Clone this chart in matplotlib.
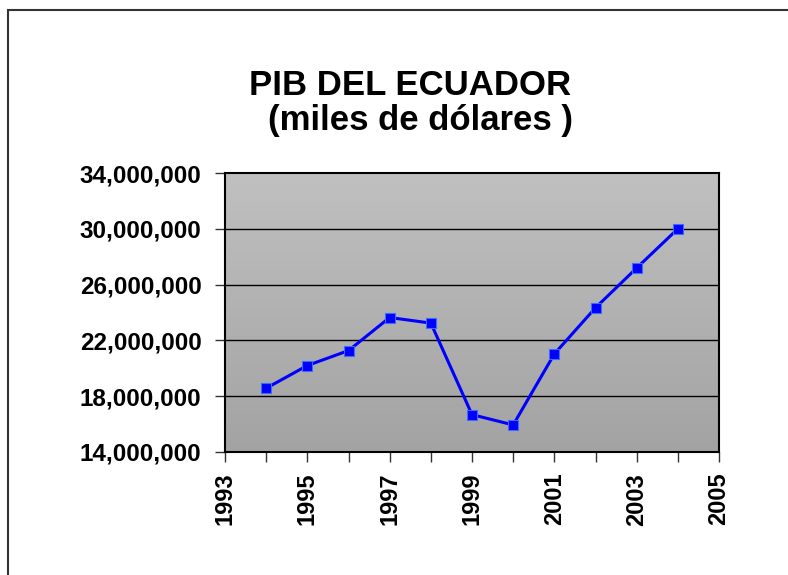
import numpy as np
import matplotlib
matplotlib.use("Agg")
import matplotlib.pyplot as plt
from matplotlib.patches import Rectangle
from matplotlib.ticker import FuncFormatter


years = [1994, 1995, 1996, 1997, 1998, 1999, 2000, 2001, 2002, 2003, 2004]
pib = [18570000, 20200000, 21270000, 23640000, 23240000, 16680000,
       15940000, 21030000, 24340000, 27190000, 30000000]

title_1 = "PIB DEL ECUADOR"
title_2 = "(miles de dólares )"

plt.rcParams['font.family'] = ['Liberation Sans', 'DejaVu Sans']

fig = plt.figure(figsize=(7.88, 5.75), dpi=100)
ax = fig.add_axes([225 / 788, 1 - 452 / 575, 494 / 788, 279 / 575])

# outer chart border (right and bottom run off the picture)
fig.patches.append(Rectangle((8 / 788, -0.1), 1.2, 1 - 10 / 575 + 0.1,
                             transform=fig.transFigure, fill=False,
                             edgecolor='#333333', linewidth=1.5))

# gray gradient plot area
grad = np.linspace(0, 1, 256).reshape(-1, 1)
ax.imshow(grad, cmap=matplotlib.colors.LinearSegmentedColormap.from_list(
    'g', ['#c0c0c0', '#a3a3a3']), aspect='auto',
    extent=[1993, 2005, 14000000, 34000000], origin='upper', zorder=0)

ax.set_xlim(1993, 2005)
ax.set_ylim(14000000, 34000000)

for v in [18000000, 22000000, 26000000, 30000000]:
    ax.axhline(v, color='black', linewidth=1, zorder=1)

ax.plot(years, pib, color='#0000ff', linewidth=2.2, marker='s',
        markersize=7, markerfacecolor='#0000ff',
        markeredgecolor='#3a6cff', markeredgewidth=0.8, zorder=3)

ax.set_yticks(range(14000000, 34000001, 4000000))
ax.yaxis.set_major_formatter(FuncFormatter(lambda v, p: f"{int(v):,}"))
ax.set_xticks(range(1993, 2006, 2))
ax.set_xticks(range(1993, 2006), minor=True)

for lab in ax.get_yticklabels():
    lab.set_fontweight('bold')
for lab in ax.get_xticklabels():
    lab.set_fontweight('bold')
    lab.set_rotation(90)

ax.tick_params(axis='y', direction='out', length=7, width=1, color='#333333',
               labelsize=17.5, pad=10)
ax.tick_params(axis='x', which='both', direction='out', length=7, width=1,
               color='#333333', labelsize=17, pad=8)

for s in ax.spines.values():
    s.set_color('black')
    s.set_linewidth(1.5)

fig.text(410 / 788, 1 - 95 / 575, title_1, ha='center', va='baseline',
         fontsize=25, fontweight='bold')
fig.text(420 / 788, 1 - 130 / 575, title_2, ha='center', va='baseline',
         fontsize=25, fontweight='bold')

fig.savefig("out.png", dpi=100)
